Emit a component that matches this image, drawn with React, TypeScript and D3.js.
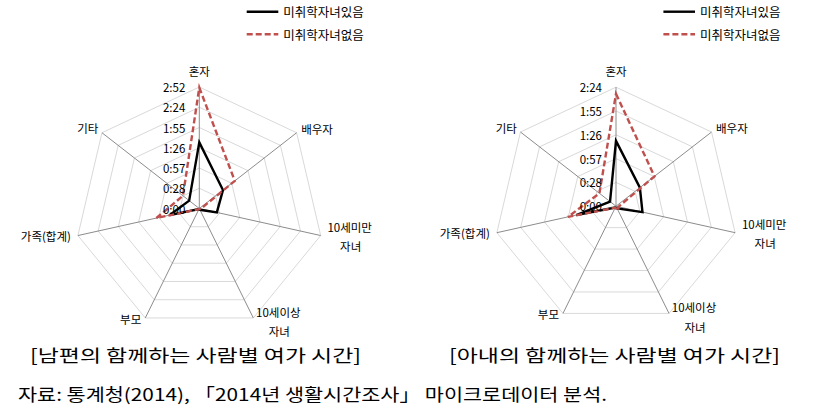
import React from 'react';
import * as d3 from 'd3';

const categories = ['혼자', '배우자', '10세미만|자녀', '10세이상|자녀', '부모', '가족(합계)', '기타'];
const seriesNames = ['미취학자녀있음', '미취학자녀없음'];
// minutes
const husbandWithKids = [94, 42, 25, 2, 1, 42, 18];
const husbandNoKids = [172, 63, 2, 1, 1, 61, 29];
const wifeWithKids = [79, 36, 32, 3, 2, 48, 9];
const wifeNoKids = [136, 58, 3, 6, 2, 58, 25];
const husbandTicks = ['0:00', '0:28', '0:57', '1:26', '1:55', '2:24', '2:52'];
const wifeTicks = ['0:00', '0:28', '0:57', '1:26', '1:55', '2:24'];
const tickStep = 28.8;
const captions = ['[남편의 함께하는 사람별 여가 시간]', '[아내의 함께하는 사람별 여가 시간]'];
const sourceText = '자료: 통계청(2014), 「2014년 생활시간조사」 마이크로데이터 분석.';

const FONT = "'Noto Sans CJK KR', 'Noto Sans', sans-serif";
const labelOffsets: [number, number, number][] = [
  [0, -16.5, 0],
  [4.5, -4, 0],
  [29, -8.5, 10],
  [25, -6, 13.5],
  [-4, 1, 0],
  [-7, 0, 0],
  [-3.5, -4.5, 0],
];
const anchors = ['middle', 'start', 'middle', 'middle', 'end', 'end', 'end'];

type RadarProps = {
  cx: number; cy: number; rx: number; ry: number;
  ticks: string[]; series: number[][]; caption: string; captionX: number;
};

function Radar({ cx, cy, rx, ry, ticks, series, caption, captionX }: RadarProps) {
  const n = categories.length;
  const maxV = (ticks.length - 1) * tickStep;
  const scale = d3.scaleLinear().domain([0, maxV]).range([0, 1]);
  const angle = (i: number) => (i / n) * 2 * Math.PI;
  const pt = (i: number, f: number): [number, number] => [
    cx + Math.sin(angle(i)) * rx * f,
    cy - Math.cos(angle(i)) * ry * f,
  ];
  const line = d3.line<[number, number]>().curve(d3.curveLinearClosed);
  const rings = d3.range(1, ticks.length);
  const colors = ['#000000', '#c0504d'];
  const dashes = ['none', '6,3'];
  return (
    <g>
      {rings.map((k) => (
        <path key={'r' + k} d={line(d3.range(n).map((i) => pt(i, k / (ticks.length - 1))))!}
          fill="none" stroke="#d9d9d9" strokeWidth={1} />
      ))}
      {d3.range(n).map((i) => {
        const [x, y] = pt(i, 1);
        return <line key={'a' + i} x1={cx} y1={cy} x2={x} y2={y} stroke="#8c8c8c" strokeWidth={1} />;
      })}
      {series.map((vals, s) => (
        <path key={'s' + s} d={line(vals.map((v, i) => pt(i, scale(v))))!}
          fill="none" stroke={colors[s]} strokeWidth={2.4} strokeDasharray={dashes[s]}
          strokeLinejoin="miter" />
      ))}
      {ticks.map((t, k) => (
        <text key={'t' + k} x={cx - 14} y={cy - ry * (k / (ticks.length - 1))} textAnchor="end"
          dominantBaseline="central" fontSize={11.5} fontFamily={FONT} fill="#000">{t}</text>
      ))}
      {categories.map((c, i) => {
        const [x, y] = pt(i, 1);
        const [dx, dy, dy2] = labelOffsets[i];
        const parts = c.split('|');
        return (
          <g key={'c' + i}>
            <text x={x + dx} y={y + dy} textAnchor={anchors[i]} dominantBaseline="central"
              fontSize={11.5} fontFamily={FONT} fill="#000">{parts[0]}</text>
            {parts[1] && (
              <text x={x + dx + 1} y={y + dy2} textAnchor={anchors[i]} dominantBaseline="central"
                fontSize={11.5} fontFamily={FONT} fill="#000">{parts[1]}</text>
            )}
          </g>
        );
      })}
      {seriesNames.map((nm, s) => (
        <g key={'l' + s}>
          <line x1={cx + 47.4} x2={cx + 79} y1={11.7 + s * 22.6} y2={11.7 + s * 22.6}
            stroke={colors[s]} strokeWidth={2.4} strokeDasharray={dashes[s]} />
          <text x={cx + 84} y={11.7 + s * 22.6} dominantBaseline="central" fontSize={12.5}
            fontFamily={FONT} fill="#000">{nm}</text>
        </g>
      ))}
      <text x={captionX} y={354} dominantBaseline="central" fontSize={17} fontFamily={FONT}
        textLength={331} lengthAdjust="spacingAndGlyphs" fill="#000">{caption}</text>
    </g>
  );
}

export default function App() {
  return (
    <svg width={816} height={417} style={{ position: 'absolute', left: 0, top: 0, background: '#fff' }}>
      <rect width={816} height={417} fill="#fff" />
      <Radar cx={199.3} cy={208.5} rx={124.5} ry={121.5} ticks={husbandTicks}
        series={[husbandWithKids, husbandNoKids]} caption={captions[0]} captionX={30} />
      <Radar cx={616} cy={206.2} rx={122.2} ry={119} ticks={wifeTicks}
        series={[wifeWithKids, wifeNoKids]} caption={captions[1]} captionX={449} />
      <text x={18} y={393} dominantBaseline="central" fontSize={17} fontFamily={FONT}
        textLength={589} lengthAdjust="spacingAndGlyphs" fill="#000">{sourceText}</text>
    </svg>
  );
}
